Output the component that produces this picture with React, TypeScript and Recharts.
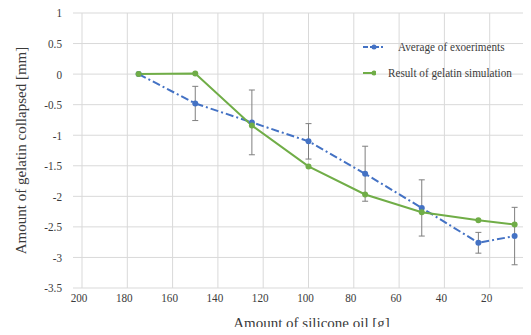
import { LineChart, Line, XAxis, YAxis, CartesianGrid, ErrorBar, Legend } from 'recharts';

// amount of silicone oil [g]
const oilAmount = [175, 150, 125, 100, 75, 50, 25, 9];
// average of experiments [mm] and its spread
const experimentAvg = [0, -0.48, -0.79, -1.1, -1.63, -2.19, -2.76, -2.65];
const experimentErr = [0, 0.28, 0.53, 0.29, 0.45, 0.46, 0.17, 0.47];
// result of gelatin simulation [mm]
const simulation = [0, 0.01, -0.84, -1.51, -1.97, -2.26, -2.39, -2.46];

const xTicks = [0, 20, 40, 60, 80, 100, 120, 140, 160, 180, 200];
const yTicks = [-3.5, -3, -2.5, -2, -1.5, -1, -0.5, 0, 0.5, 1];

const rows = oilAmount.map((oil, i) => ({
    oil,
    avg: experimentAvg[i],
    err: experimentErr[i],
    sim: simulation[i],
}));

const FONT = '"Liberation Serif", "Times New Roman", serif';
const TEXT = '#3b3b3b';
const BLUE = '#4472c4';
const GREEN = '#70ad47';
const GRID = '#d9d9d9';
const SQUEEZE = 0.86; // the source text is slightly condensed
const CHART_H = 335;

const legendItems = [
    { name: 'Average of exoeriments', color: BLUE, dash: '5 2 2 2' },
    { name: 'Result of gelatin simulation', color: GREEN, dash: undefined },
];

const ChartLegend = () => (
    <div style={{ fontFamily: FONT, fontSize: 13, color: TEXT }}>
        {legendItems.map((it) => (
            <div key={it.name} style={{ display: 'flex', alignItems: 'center', height: 26 }}>
                <svg width={24} height={8} style={{ marginRight: 12 }}>
                    <line x1={1} y1={4} x2={23} y2={4} stroke={it.color} strokeWidth={2} strokeDasharray={it.dash} />
                    <circle cx={12} cy={4} r={2.5} fill={it.color} />
                </svg>
                <span
                    style={{
                        whiteSpace: 'nowrap',
                        display: 'inline-block',
                        transform: `scaleX(${SQUEEZE})`,
                        transformOrigin: 'left center',
                    }}
                >
                    {it.name}
                </span>
            </div>
        ))}
    </div>
);

const XTick = ({ x, y, payload }: any) => (
    <g transform={`translate(${x - 3},${y})`}>
        <text
            transform={`scale(${SQUEEZE},1)`}
            textAnchor="middle"
            dy="0.71em"
            fill={TEXT}
            fontSize={13}
            fontFamily={FONT}
        >
            {payload.value}
        </text>
    </g>
);

const YTick = ({ x, y, payload }: any) => (
    <g transform={`translate(${x},${y})`}>
        <text
            transform={`scale(${SQUEEZE},1)`}
            textAnchor="end"
            dy="0.34em"
            fill={TEXT}
            fontSize={13}
            fontFamily={FONT}
        >
            {payload.value}
        </text>
    </g>
);

// title sits near the bottom edge of the chart
const XTitle = ({ viewBox }: any) => (
    <text
        x={viewBox.x + viewBox.width / 2 + 3}
        y={CHART_H - 7}
        textAnchor="middle"
        fill={TEXT}
        fontSize={15}
        fontFamily={FONT}
    >
        Amount of silicone oil [g]
    </text>
);

const YTitle = ({ viewBox }: any) => {
    const cx = viewBox.x + 26;
    const cy = viewBox.y + viewBox.height / 2;
    return (
        <text
            x={cx}
            y={cy}
            transform={`rotate(-90 ${cx} ${cy})`}
            textAnchor="middle"
            fill={TEXT}
            fontSize={15}
            fontFamily={FONT}
        >
            Amount of gelatin collapsed [mm]
        </text>
    );
};

export default function App() {
    return (
        <div style={{ margin: -8, width: 531, height: CHART_H, overflow: 'hidden', background: '#fff' }}>
            <LineChart width={560} height={CHART_H} data={rows} margin={{ top: 13, right: 25, bottom: 0, left: 0 }}>
                <CartesianGrid stroke={GRID} strokeWidth={1} />
                <XAxis
                    dataKey="oil"
                    type="number"
                    domain={[0, 200]}
                    ticks={xTicks}
                    reversed
                    height={47}
                    axisLine={false}
                    tickLine={false}
                    tickSize={0}
                    tickMargin={5}
                    tick={<XTick />}
                    label={<XTitle />}
                />
                <YAxis
                    type="number"
                    domain={[-3.5, 1]}
                    ticks={yTicks}
                    width={82}
                    axisLine={false}
                    tickLine={{ stroke: GRID }}
                    tickSize={9}
                    tickMargin={11}
                    tick={<YTick />}
                    label={<YTitle />}
                />
                <Legend
                    layout="vertical"
                    align="center"
                    verticalAlign="middle"
                    content={<ChartLegend />}
                    wrapperStyle={{ top: 34, left: 362, width: 170 }}
                />
                <Line
                    dataKey="avg"
                    name="Average of exoeriments"
                    stroke={BLUE}
                    strokeWidth={2}
                    strokeDasharray="8 3 2 3"
                    dot={{ r: 3, fill: BLUE, stroke: BLUE, strokeWidth: 0 }}
                    isAnimationActive={false}
                >
                    <ErrorBar dataKey="err" width={3} stroke="#7f7f7f" strokeWidth={1} direction="y" />
                </Line>
                <Line
                    dataKey="sim"
                    name="Result of gelatin simulation"
                    stroke={GREEN}
                    strokeWidth={2}
                    dot={{ r: 3, fill: GREEN, stroke: GREEN, strokeWidth: 0 }}
                    isAnimationActive={false}
                />
            </LineChart>
        </div>
    );
}
